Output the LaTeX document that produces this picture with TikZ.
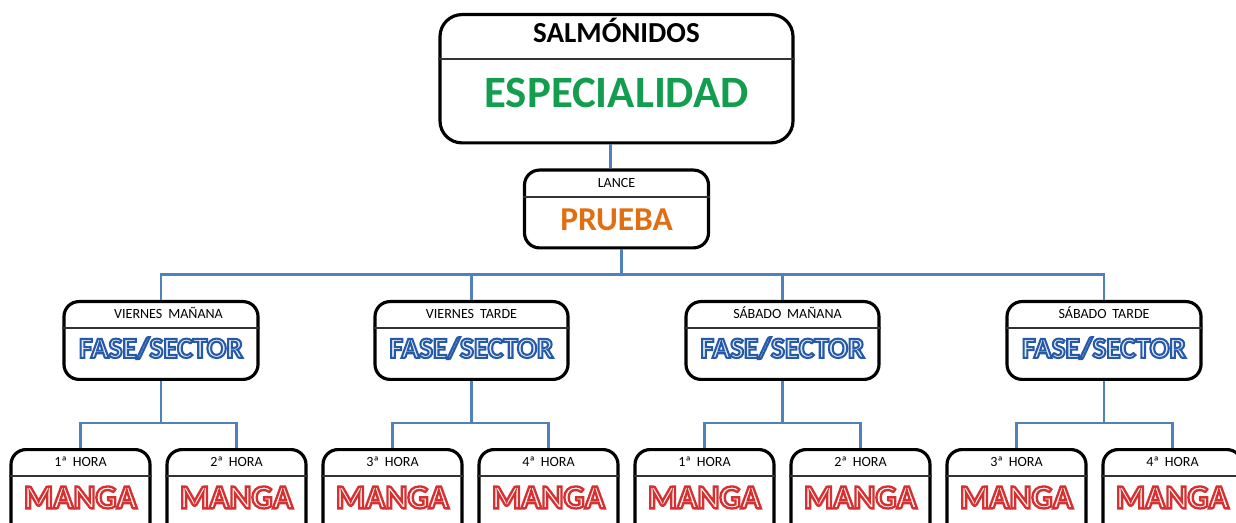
\documentclass[tikz,border=0pt]{standalone}
\usepackage{fontspec}
\setmainfont{Carlito}
\newfontface\outlinebf[FakeBold=7]{Carlito Bold}
\usetikzlibrary{shapes.multipart,positioning}

\definecolor{linkblue}{RGB}{79,129,189}
\definecolor{espgreen}{RGB}{18,158,78}
\definecolor{prorange}{RGB}{226,110,18}

% fill colour, then stroke colour of outlined text
\newcommand{\outlined}[3]{\special{pdf:bcolor #1 #2}#3\special{pdf:ecolor}}
\newcommand{\lbl}[1]{\fontsize{8}{9}\selectfont #1}
\newcommand{\fase}{\fontsize{16.7}{18}\outlinebf\outlined{[0.89 0.93 0.98]}{[0.15 0.35 0.66]}{FASE/SECTOR}}
\newcommand{\manga}{\fontsize{19}{20}\outlinebf\outlined{[1 0.97 0.97]}{[0.84 0.19 0.19]}{MANGA}}

\tikzset{
    card/.style={rectangle split, rectangle split parts=2, rectangle split draw splits=false,
        draw=black, line width=1.8pt, rounded corners=0.3cm, fill=white,
        inner sep=0pt, align=center, anchor=north},
    link/.style={draw=linkblue, line width=1.4pt},
    divider/.style={draw=black!80, line width=1pt}
}

\begin{document}
\begin{tikzpicture}
    \useasboundingbox (0,0) rectangle (24.72,-10.46);
    \clip (0,0) rectangle (24.72,-10.46);

    % top
    \node[card, rounded corners=0.44cm, text width=7.06cm] (top) at (12.33,-0.26)
        {\rule[-0.30cm]{0pt}{0.82cm}\fontsize{16.5}{18}\selectfont\bfseries SALMÓNIDOS
        \nodepart{two}\rule[-0.68cm]{0pt}{1.62cm}\fontsize{25.5}{27}\selectfont\bfseries\color{espgreen}ESPECIALIDAD};
    \node[card, text width=3.68cm, below=0.48cm of top] (lance)
        {\rule[-0.15cm]{0pt}{0.47cm}\lbl{LANCE}
        \nodepart{two}\rule[-0.32cm]{0pt}{0.96cm}\fontsize{19}{20}\selectfont\bfseries\color{prorange}PRUEBA};

    % fases
    \node[card, text width=3.88cm] (f1) at (3.22,-6.0)
        {\rule[-0.15cm]{0pt}{0.46cm}\hspace*{0.3cm}\lbl{VIERNES MAÑANA}\nodepart{two}\rule[-0.40cm]{0pt}{0.97cm}\fase};
    \node[card, text width=3.86cm] (f2) at (9.43,-6.0)
        {\rule[-0.15cm]{0pt}{0.46cm}\lbl{VIERNES TARDE}\nodepart{two}\rule[-0.40cm]{0pt}{0.97cm}\fase};
    \node[card, text width=3.86cm] (f3) at (15.65,-6.0)
        {\rule[-0.15cm]{0pt}{0.46cm}\hspace*{0.2cm}\lbl{SÁBADO MAÑANA}\nodepart{two}\rule[-0.40cm]{0pt}{0.97cm}\fase};
    \node[card, text width=3.88cm] (f4) at (22.08,-6.0)
        {\rule[-0.15cm]{0pt}{0.46cm}\lbl{SÁBADO TARDE}\nodepart{two}\rule[-0.40cm]{0pt}{0.97cm}\fase};

    % mangas
    \node[card, text width=2.78cm] (m1) at (1.61,-8.96)
        {\rule[-0.15cm]{0pt}{0.46cm}\lbl{1ª HORA}\nodepart{two}\rule[-0.70cm]{0pt}{1.32cm}\manga};
    \node[card, text width=2.78cm] (m2) at (4.73,-8.96)
        {\rule[-0.15cm]{0pt}{0.46cm}\lbl{2ª HORA}\nodepart{two}\rule[-0.70cm]{0pt}{1.32cm}\manga};
    \node[card, text width=2.78cm] (m3) at (7.85,-8.96)
        {\rule[-0.15cm]{0pt}{0.46cm}\lbl{3ª HORA}\nodepart{two}\rule[-0.70cm]{0pt}{1.32cm}\manga};
    \node[card, text width=2.78cm] (m4) at (10.97,-8.96)
        {\rule[-0.15cm]{0pt}{0.46cm}\lbl{4ª HORA}\nodepart{two}\rule[-0.70cm]{0pt}{1.32cm}\manga};
    \node[card, text width=2.78cm] (m5) at (14.09,-8.96)
        {\rule[-0.15cm]{0pt}{0.46cm}\lbl{1ª HORA}\nodepart{two}\rule[-0.70cm]{0pt}{1.32cm}\manga};
    \node[card, text width=2.78cm] (m6) at (17.21,-8.96)
        {\rule[-0.15cm]{0pt}{0.46cm}\lbl{2ª HORA}\nodepart{two}\rule[-0.70cm]{0pt}{1.32cm}\manga};
    \node[card, text width=2.78cm] (m7) at (20.33,-8.96)
        {\rule[-0.15cm]{0pt}{0.46cm}\lbl{3ª HORA}\nodepart{two}\rule[-0.70cm]{0pt}{1.32cm}\manga};
    \node[card, text width=2.78cm] (m8) at (23.45,-8.96)
        {\rule[-0.15cm]{0pt}{0.46cm}\lbl{4ª HORA}\nodepart{two}\rule[-0.70cm]{0pt}{1.32cm}\manga};

    % split lines
    \foreach \n in {top,lance,f1,f2,f3,f4,m1,m2,m3,m4,m5,m6,m7,m8}
        \draw[divider] (\n.text split west) -- (\n.text split east);

    % connectors
    \draw[link] ([xshift=-0.12cm]top.south) -- ([xshift=-0.12cm]lance.north);
    \draw[link] ([xshift=0.1cm]lance.south) -- ++(0,-0.5) coordinate (bus);
    \draw[link] (f1.north) |- (bus) -| (f4.north);
    \draw[link] (f2.north) -- (f2.north |- bus);
    \draw[link] (f3.north) -- (f3.north |- bus);
    \foreach \f/\a/\b in {f1/m1/m2, f2/m3/m4, f3/m5/m6, f4/m7/m8} {
        \draw[link] (\f.south) -- ++(0,-0.84) coordinate (\f bus);
        \draw[link] (\a.north) |- (\f bus) -| (\b.north);
    }
\end{tikzpicture}
\end{document}
